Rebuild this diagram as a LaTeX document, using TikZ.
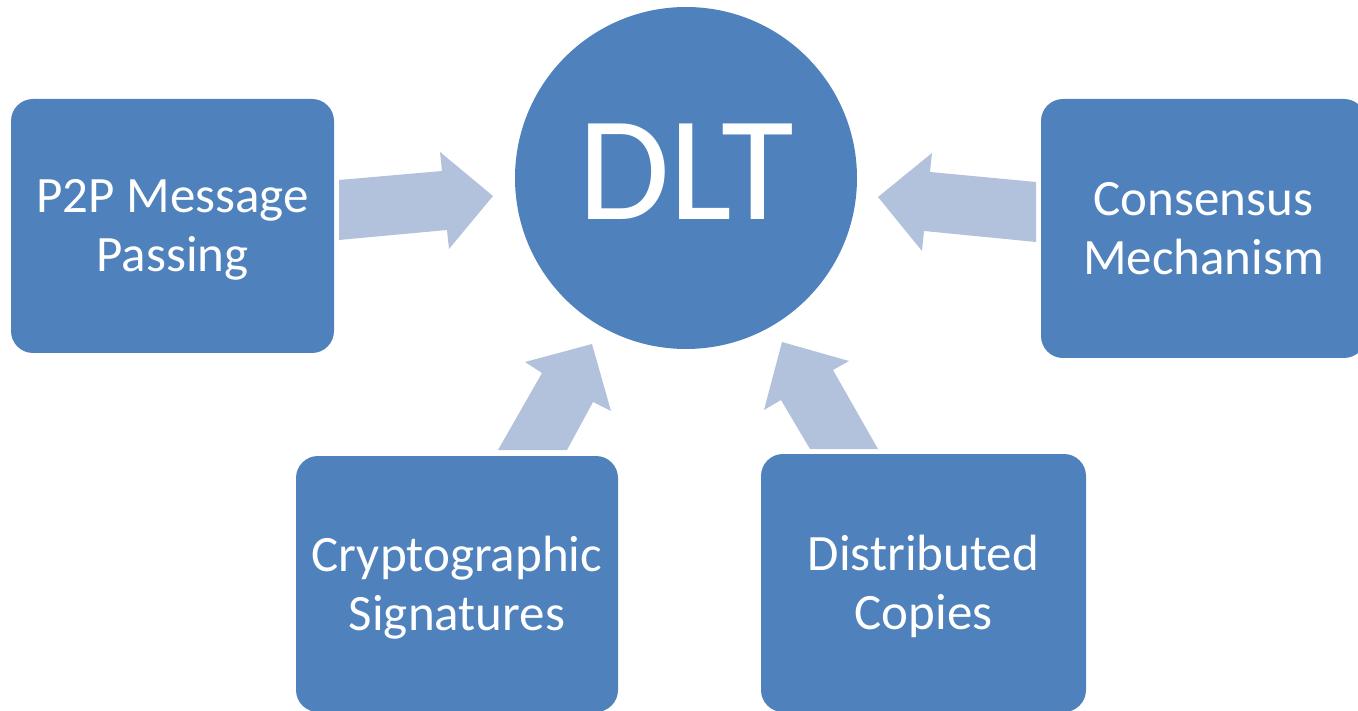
\documentclass[tikz,border=0pt]{standalone}
\usepackage{fontspec}
\setmainfont{Carlito}
\definecolor{boxblue}{HTML}{4F81BD}
\definecolor{arrowblue}{HTML}{B2C1DC}
\begin{document}
\begin{tikzpicture}[x=1pt,y=-1pt,
  box/.style={fill=boxblue, rounded corners=22pt, inner sep=0pt, text=white,
    align=center, font=\fontsize{51}{59}\selectfont, text height=92pt, text depth=0pt},
  hub/.style={circle, fill=boxblue, inner sep=0pt, minimum size=342pt, text=white,
    font=\fontsize{149}{160}\selectfont, text depth=12pt},
  blockarrow/.style={fill=arrowblue}]
\useasboundingbox (0,0) rectangle (1358,711);
% central circle
\node[hub] (dlt) at (686,178) {DLT};
% boxes
\node[box, minimum width=323pt, minimum height=254pt] (p2p) at (172.5,226) {P2P Message\\Passing};
\node[box, minimum width=325pt, minimum height=259pt] (cons) at (1203.5,228.5) {Consensus\\Mechanism};
\node[box, minimum width=322pt, minimum height=256pt] (crypt) at (457,584) {Cryptographic\\Signatures};
\node[box, minimum width=325pt, minimum height=258pt] (dist) at (923.5,583) {Distributed\\Copies};
% block arrows
\fill[blockarrow] (339,180) -- (442,171) -- (440,152) -- (493,196) -- (449,249) -- (447,230) -- (339,240) -- cycle;
\fill[blockarrow] (1036,182) -- (930,172) -- (932,153) -- (878,197) -- (922,251) -- (924,231) -- (1036,242) -- cycle;
\fill[blockarrow] (498,450) -- (542,373) -- (525,362) -- (592,344) -- (611,411) -- (593,402) -- (567,450) -- cycle;
\fill[blockarrow] (810,449) -- (781,400) -- (764,410) -- (782,342) -- (849,361) -- (833,370) -- (878,449) -- cycle;
\end{tikzpicture}
\end{document}
